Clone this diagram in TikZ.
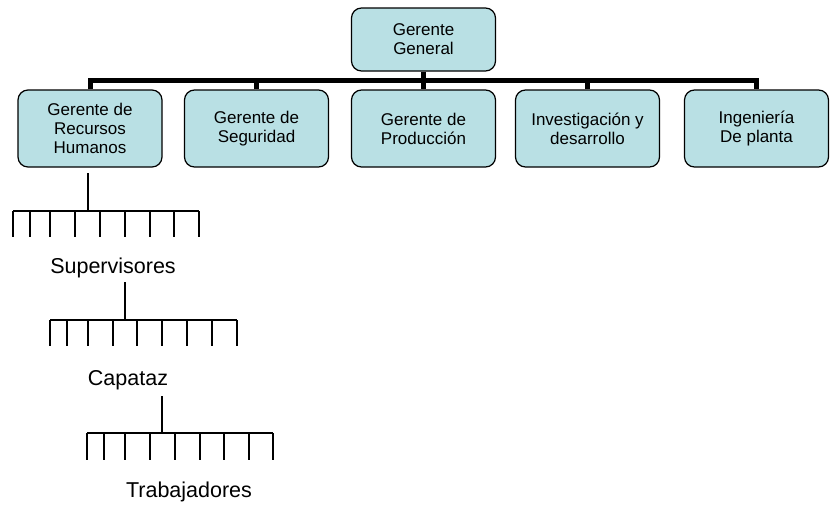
\documentclass[tikz,border=0pt]{standalone}
\usepackage{fontspec}
\setmainfont{Liberation Sans}
\definecolor{boxfill}{RGB}{185,224,228}
\begin{document}
\begin{tikzpicture}[x=1pt,y=-1pt,
  box/.style={draw=black, line width=1.2pt, fill=boxfill, rounded corners=10pt,
    minimum width=144pt, minimum height=77pt, align=center, inner sep=0pt,
    font=\fontsize{17}{19}\selectfont},
  level/.style={font=\fontsize{21.5}{24}\selectfont, anchor=base, inner sep=0pt},
  bar/.style={line width=5pt, miter limit=10},
  thin/.style={line width=1.6pt}]
\useasboundingbox (0,0) rectangle (832,506);

% top of the chart
\node[box, minimum height=63pt] (gg) at (423.5,39.5) {Gerente\\General};

% managers
\node[box] (hr)  at (90,128.5)  {Gerente de\\Recursos\\Humanos};
\node[box] (seg) at (256.5,128.5) {Gerente de\\Seguridad};
\node[box] (pro) at (423.5,128.5) {Gerente de\\Producción};
\node[box] (inv) at (587.5,128.5) {Investigación y\\desarrollo};
\node[box] (ing) at (756.5,128.5) {Ingeniería\\De planta};

% thick bus between the general manager and the managers
\coordinate (bus) at (423.5,80.5);
\draw[bar] (hr.north) |- (bus) -| (ing.north);
\draw[bar] (gg.south) -- (pro.north);
\draw[bar] (seg.north) -- (seg.north |- bus);
\draw[bar] (inv.north) -- (inv.north |- bus);

% level labels
\node[level] (sup) at (113,273) {Supervisores};
\node[level] (cap) at (128,385) {Capataz};
\node[level] (tra) at (189,497) {Trabajadores};

% brackets of subordinates
\coordinate (s1) at (88,173);
\coordinate (s2) at (125,282);
\coordinate (s3) at (162,396);

\draw[thin] (s1) -- (88,211);
\draw[thin] (13,211) -- (199,211);
\foreach \x in {13,30,50,75,100,125,150,174,199}
  \draw[thin] (\x,211) -- (\x,237);

\draw[thin] (s2) -- (125,320);
\draw[thin] (50,320) -- (237,320);
\foreach \x in {50,67,88,113,137,162,187,212,237}
  \draw[thin] (\x,320) -- (\x,346);

\draw[thin] (s3) -- (162,433);
\draw[thin] (87,433) -- (273,433);
\foreach \x in {87,104,125,150,175,200,224,249,273}
  \draw[thin] (\x,433) -- (\x,460);
\end{tikzpicture}
\end{document}
